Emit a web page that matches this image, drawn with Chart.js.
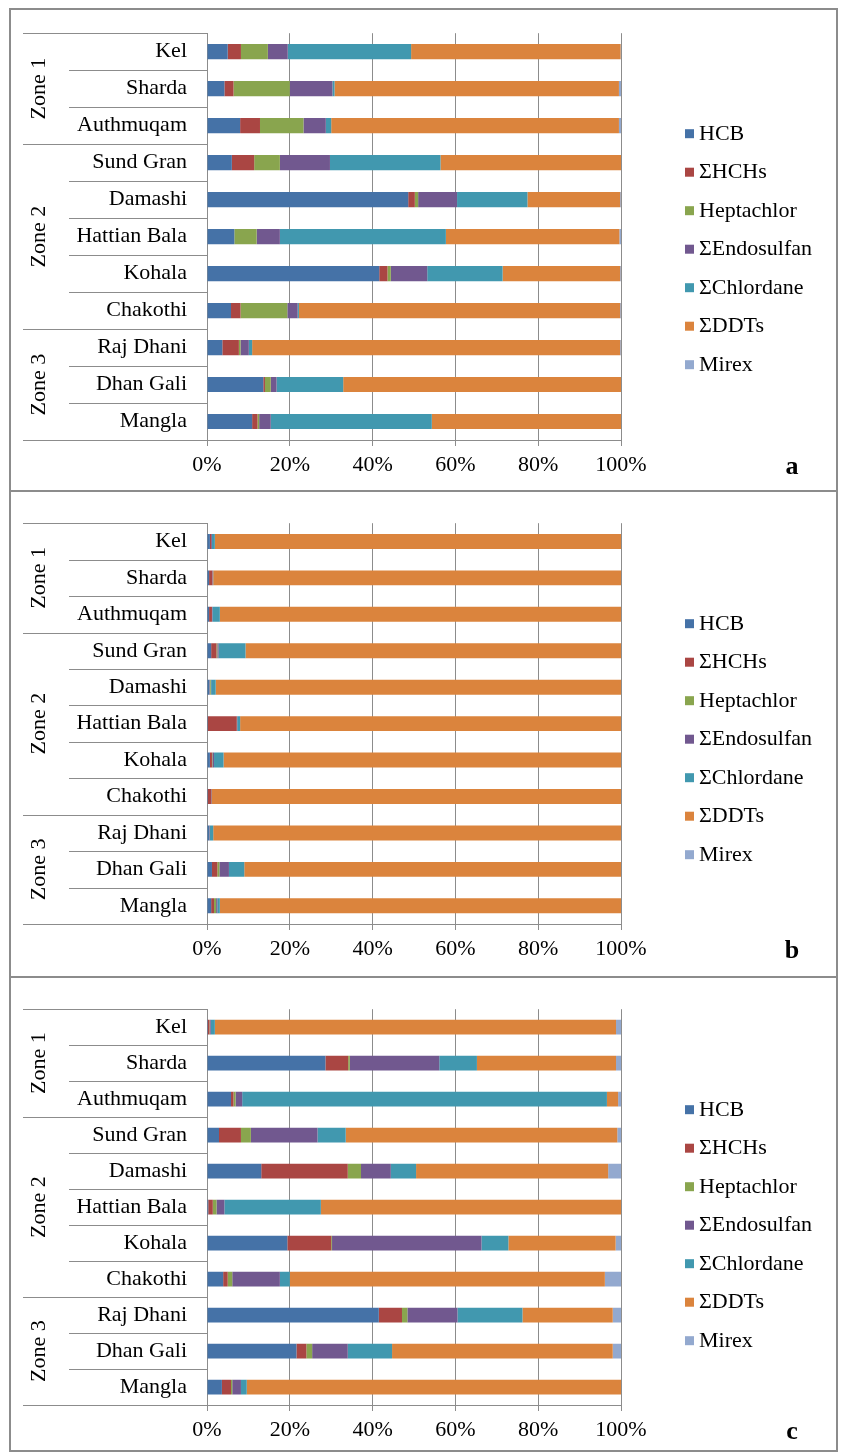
<!DOCTYPE html>
<html>
<head>
<meta charset="utf-8">
<script src="https://cdn.jsdelivr.net/npm/chart.js@4.4.1/dist/chart.umd.min.js"></script>
<style>
  body { margin: 0; background: #fff; }
  #page { position: relative; width: 842px; height: 1452px; overflow: hidden; }
  .frame { position: absolute; left: 9px; width: 829px; box-sizing: border-box; border: 2px solid #8c8c8c; }
  canvas { position: absolute; left: 0; }
</style>
</head>
<body>
<div id="page">
  <div class="frame" style="top:8px;height:484px"></div>
  <div class="frame" style="top:490px;height:488px"></div>
  <div class="frame" style="top:976px;height:476px"></div>
  <canvas id="chartA" width="842" height="490" style="top:0px"></canvas>
  <canvas id="chartB" width="842" height="486" style="top:490px"></canvas>
  <canvas id="chartC" width="842" height="476" style="top:976px"></canvas>
</div>
<script>
const stations = ['Kel', 'Sharda', 'Authmuqam', 'Sund Gran', 'Damashi', 'Hattian Bala', 'Kohala', 'Chakothi', 'Raj Dhani', 'Dhan Gali', 'Mangla'];
const zones = ['Zone 1', 'Zone 2', 'Zone 3'];
const zoneSizes = [3, 5, 3];
const compounds = ['HCB', 'ΣHCHs', 'Heptachlor', 'ΣEndosulfan', 'ΣChlordane', 'ΣDDTs', 'Mirex'];
const colors = ['#4572A7', '#AA4643', '#89A54E', '#71588F', '#4198AF', '#DB843D', '#93A9CF'];
const xTicks = [0, 20, 40, 60, 80, 100];

// panel a (%)
const hcbA   = [5.0, 4.2, 8.0, 6.0, 48.6, 6.6, 41.6, 5.8, 3.7, 13.6, 10.9];
const hchA   = [3.2, 2.2, 4.8, 5.4, 1.6, 0, 2.0, 2.3, 4.0, 0.4, 1.3];
const heptA  = [6.5, 13.6, 10.5, 6.2, 0.8, 5.4, 0.8, 11.3, 0.4, 1.4, 0.4];
const endoA  = [4.8, 10.3, 5.4, 12.1, 9.4, 5.6, 8.8, 2.5, 2.0, 1.4, 2.8];
const chlorA = [29.8, 0.5, 1.3, 26.7, 17.0, 40.1, 18.2, 0.3, 0.8, 16.1, 38.9];
const ddtA   = [50.6, 68.7, 69.5, 43.6, 22.4, 41.9, 28.4, 77.6, 88.9, 67.1, 45.7];
const mirexA = [0.1, 0.5, 0.5, 0, 0.2, 0.4, 0.2, 0.2, 0.2, 0, 0];

// panel b (%)
const hcbB   = [0.7, 0.5, 0.5, 1.0, 0.6, 0.2, 0.7, 0.2, 0.6, 1.2, 1.0];
const hchB   = [0.3, 0.8, 0.7, 1.3, 0.1, 7.0, 0.5, 0.9, 0.1, 1.3, 0.7];
const heptB  = [0, 0, 0, 0.2, 0.2, 0, 0.1, 0, 0, 0.5, 0.5];
const endoB  = [0.2, 0.1, 0.1, 0.3, 0.1, 0.1, 0.4, 0, 0, 2.3, 0.3];
const chlorB = [0.7, 0.1, 1.8, 6.5, 1.1, 0.7, 2.3, 0.1, 0.8, 3.7, 0.6];
const ddtB   = [98.1, 98.5, 96.9, 90.7, 97.9, 92.0, 96.0, 98.8, 98.5, 91.0, 96.9];
const mirexB = [0, 0, 0, 0, 0, 0, 0, 0, 0, 0, 0];

// panel c (%)
const hcbC   = [0.2, 28.6, 5.8, 2.9, 13.1, 0.3, 19.4, 3.9, 41.5, 21.6, 3.6];
const hchC   = [0.4, 5.5, 0.6, 5.3, 20.9, 1.1, 10.6, 1.1, 5.6, 2.4, 2.2];
const heptC  = [0.1, 0.4, 0.5, 2.4, 3.2, 0.9, 0.2, 1.1, 1.3, 1.4, 0.3];
const endoC  = [0.2, 21.6, 1.6, 16.1, 7.2, 1.9, 36.1, 11.5, 12.1, 8.6, 2.1];
const chlorC = [1.0, 9.1, 88.1, 6.8, 6.1, 23.3, 6.5, 2.4, 15.7, 10.7, 1.4];
const ddtC   = [96.9, 33.6, 2.7, 65.6, 46.4, 72.5, 25.9, 76.1, 21.8, 53.3, 90.4];
const mirexC = [1.2, 1.2, 0.7, 0.9, 3.1, 0, 1.3, 3.9, 2.0, 2.0, 0];

const serif = "'Liberation Serif', 'Times New Roman', serif";
const lineGrey = '#8c8c8c';

// category box, zone labels, legend and panel letter
const decor = {
  id: 'decor',
  afterDraw(chart, args, opts) {
    const ctx = chart.ctx;
    const y = chart.scales.y;
    const area = chart.chartArea;
    const pitch = y.getPixelForValue(1) - y.getPixelForValue(0);
    ctx.save();
    ctx.strokeStyle = lineGrey;
    ctx.lineWidth = 1;
    const hline = (py, x0) => {
      ctx.beginPath();
      ctx.moveTo(x0, Math.round(py) + 0.5);
      ctx.lineTo(area.left, Math.round(py) + 0.5);
      ctx.stroke();
    };
    hline(area.top, 23);
    hline(area.bottom, 23);
    let start = 0;
    zoneSizes.forEach((n, z) => {
      for (let i = start + 1; i < start + n; i++) {
        hline(y.getPixelForValue(i) - pitch / 2, 69);
      }
      if (start + n < stations.length) hline(y.getPixelForValue(start + n) - pitch / 2, 23);
      const mid = (y.getPixelForValue(start) + y.getPixelForValue(start + n - 1)) / 2;
      ctx.save();
      ctx.translate(39, mid);
      ctx.rotate(-Math.PI / 2);
      ctx.fillStyle = '#000';
      ctx.font = '22px ' + serif;
      ctx.textAlign = 'center';
      ctx.textBaseline = 'middle';
      ctx.fillText(zones[z], 0, 0);
      ctx.restore();
      start += n;
    });

    // legend
    ctx.font = '22px ' + serif;
    ctx.textAlign = 'left';
    ctx.textBaseline = 'middle';
    chart.data.datasets.forEach((ds, i) => {
      const ly = area.top + 101 + i * 38.5;
      ctx.fillStyle = ds.backgroundColor;
      ctx.fillRect(685, ly - 5, 9, 9);
      ctx.fillStyle = '#000';
      ctx.fillText(ds.label, 699, ly);
    });

    ctx.font = 'bold 26px ' + serif;
    ctx.textAlign = 'center';
    ctx.fillText(opts.letter, 792, area.bottom + 27);
    ctx.restore();
  }
};

function makeChart(id, series, letter, padTop, padBottom) {
  new Chart(document.getElementById(id), {
    type: 'bar',
    data: {
      labels: stations,
      datasets: compounds.map((name, i) => ({
        label: name,
        data: series[i],
        backgroundColor: colors[i],
        borderWidth: 0,
        barPercentage: 0.41,
        categoryPercentage: 1
      }))
    },
    options: {
      indexAxis: 'y',
      responsive: false,
      animation: false,
      devicePixelRatio: 1,
      layout: { padding: { left: 0, right: 221, top: padTop, bottom: padBottom } },
      plugins: {
        legend: { display: false },
        tooltip: { enabled: false },
        decor: { letter }
      },
      scales: {
        x: {
          stacked: true,
          min: 0,
          max: 100,
          afterFit: s => { s.height = 40; },
          grid: { color: lineGrey, lineWidth: 1, drawTicks: true, tickLength: 6, tickColor: lineGrey },
          border: { display: true, color: lineGrey, width: 1 },
          afterBuildTicks: s => { s.ticks = xTicks.map(v => ({ value: v })); },
          ticks: {
            color: '#000',
            font: { family: serif, size: 22 },
            padding: 6,
            callback: v => v + '%'
          }
        },
        y: {
          stacked: true,
          afterFit: s => { s.width = 207; },
          grid: { display: false, drawTicks: false },
          border: { display: true, color: lineGrey, width: 1 },
          ticks: {
            color: '#000',
            font: { family: serif, size: 22 },
            padding: 20,
            autoSkip: false
          }
        }
      }
    },
    plugins: [decor]
  });
}

makeChart('chartA', [hcbA, hchA, heptA, endoA, chlorA, ddtA, mirexA], 'a', 33, 10);
makeChart('chartB', [hcbB, hchB, heptB, endoB, chlorB, ddtB, mirexB], 'b', 27, 12);
makeChart('chartC', [hcbC, hchC, heptC, endoC, chlorC, ddtC, mirexC], 'c', 22, 7);
</script>
</body>
</html>
